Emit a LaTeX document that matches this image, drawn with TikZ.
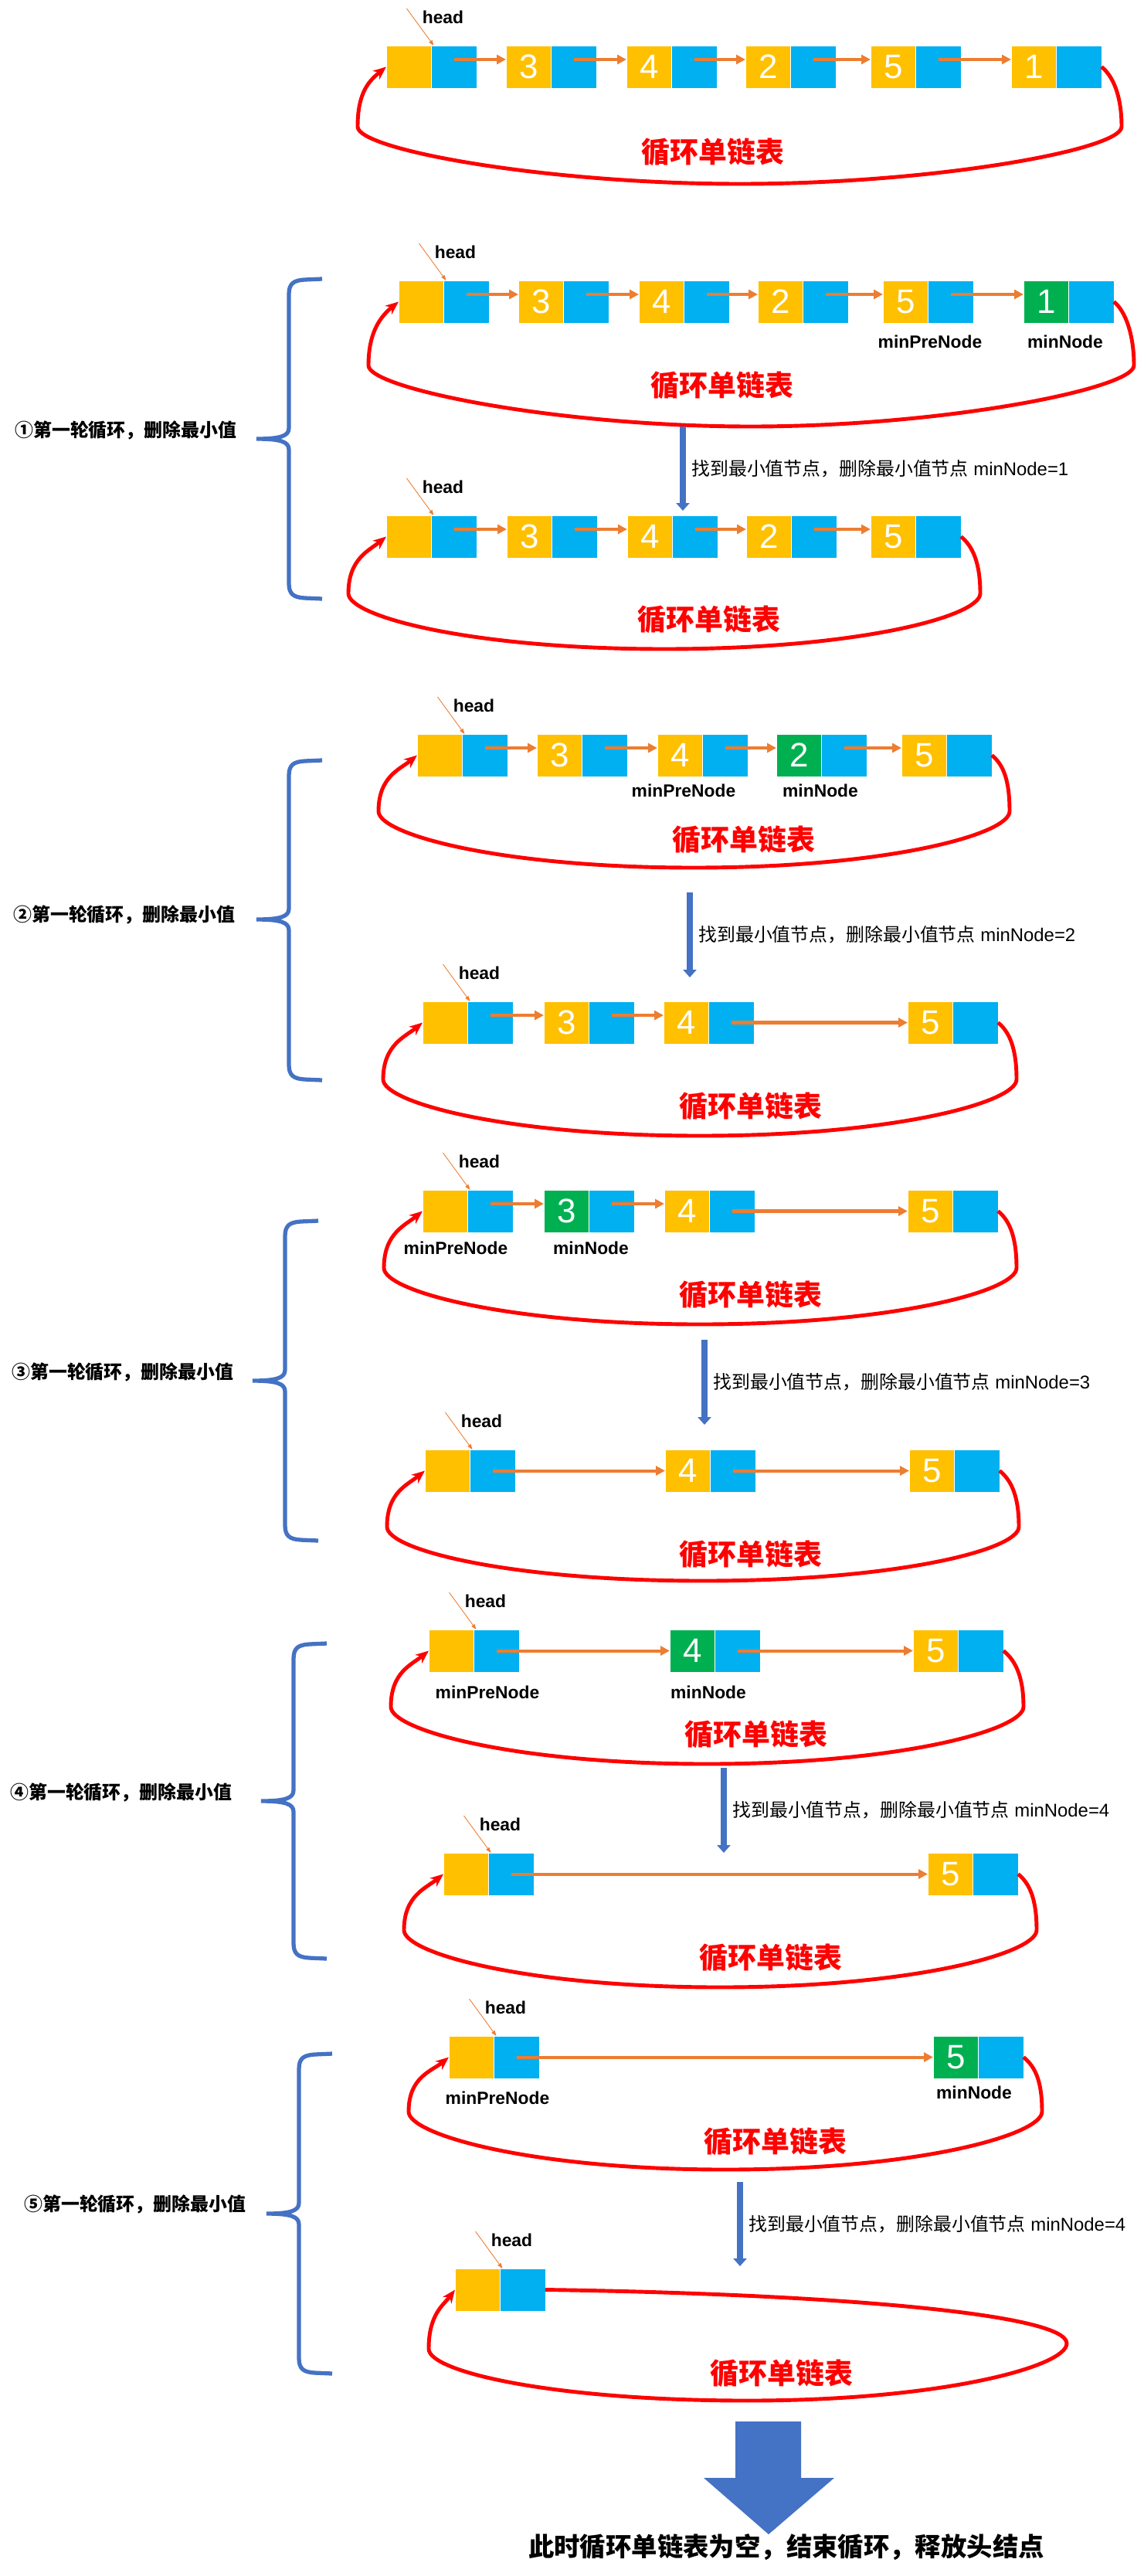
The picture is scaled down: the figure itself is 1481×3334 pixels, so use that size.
\documentclass[tikz,border=0pt]{standalone}
\usepackage{fontspec}
\setmainfont{Liberation Sans}
\newfontfamily\cjk{Noto Sans CJK SC}
\usetikzlibrary{arrows.meta,positioning}

\definecolor{yolk}{HTML}{FFC000}
\definecolor{sky}{HTML}{00B0F0}
\definecolor{leaf}{HTML}{00B050}
\definecolor{tangerine}{HTML}{ED7D31}
\definecolor{ruby}{HTML}{FF0000}
\definecolor{steel}{HTML}{4472C4}

\tikzstyle{cell} = [rectangle, minimum width=1.17cm, minimum height=1.1cm, inner sep=0pt, outer sep=0pt, draw=white, line width=0.5pt, text=white, font=\fontsize{25}{25}\selectfont]
\tikzstyle{val} = [cell, fill=yolk, anchor=north west]
\tikzstyle{minval} = [cell, fill=leaf, anchor=north west]
\tikzstyle{ptr} = [cell, fill=sky]
\tikzstyle{link} = [draw=tangerine, line width=2.3pt, -{Triangle[length=0.24cm,width=0.24cm]}]
\tikzstyle{headarrow} = [draw=tangerine, line width=0.5pt, -{Triangle[length=0.14cm,width=0.1cm]}]
\tikzstyle{loopline} = [draw=ruby, line width=2.8pt, -{Stealth[length=0.34cm,width=0.28cm]}]
\tikzstyle{stage} = [draw=steel, line width=4pt, -{Triangle[length=0.2cm,width=0.34cm]}]
\tikzstyle{bracestroke} = [draw=steel, line width=3pt]
\tikzstyle{tag} = [inner sep=0pt, font=\bfseries\fontsize{13}{15}\selectfont]
\tikzstyle{title} = [inner sep=0pt, text=ruby, font=\cjk\bfseries\fontsize{21}{24}\selectfont]
\tikzstyle{note} = [inner sep=0pt, anchor=west, font=\fontsize{13.6}{16}\selectfont]
\tikzstyle{roundlabel} = [inner sep=0pt, anchor=west, font=\cjk\bfseries\fontsize{13.6}{16}\selectfont]
\tikzstyle{closing} = [inner sep=0pt, font=\cjk\bfseries\fontsize{19}{22}\selectfont]

% list node: value cell + pointer cell
\newcommand{\listnode}[5][val]{\node[#1] (#2) at (#3,#4) {#5};
  \node[ptr, right=0pt of #2] (#2n) {};}
\newcommand{\nextarrow}[3][0cm]{\draw[link] ([yshift=#1]#2n.center) -- ([yshift=#1]#3.west);}
\newcommand{\headptr}[1]{\node[tag] (#1h) at ([xshift=0.3cm,yshift=0.74cm]#1.north east) {head};
  \coordinate (#1p) at ([xshift=-0.64cm,yshift=0.96cm]#1.north east);
  \draw[headarrow] (#1p) -- ([xshift=0.06cm]#1.north east);}
% red ring from last node back to first
\newcommand{\closeloop}[7]{\draw[loopline] (#1.east) .. controls +(15,12) and +(0,-40) .. (#3,#4)
    .. controls +(0,30) and +(250,0) .. (#5,#6)
    .. controls +(-250,0) and +(0,30) .. (#7,#4)
    .. controls +(0,-45) and +(-22,18) .. (#2.west);}
\newcommand{\stagearrow}[5]{\coordinate (#1s) at (#2,#3); \coordinate (#1e) at (#2,#4);
  \draw[stage] (#1s) -- (#1e);
  \node[note] (#1l) at ({#2+11},{(#3+#4)/2}) {{\cjk 找到最小值节点，删除最小值节点} minNode=#5};}
\newcommand{\roundbrace}[4]{\draw[bracestroke] ({#1+43},#2) -- ({#1+20},{#2+1})
    .. controls ({#1+6},{#2+2}) and (#1,{#2+6}) .. (#1,{#2+20})
    -- (#1,{#3-14}) .. controls (#1,{#3-4}) and ({#1-10},#3) .. ({#1-42},#3)
    .. controls ({#1-10},#3) and (#1,{#3+4}) .. (#1,{#3+14})
    -- (#1,{#4-20}) .. controls (#1,{#4-6}) and ({#1+6},{#4-2}) .. ({#1+20},{#4-1}) -- ({#1+43},#4);}

\begin{document}
\begin{tikzpicture}[x=0.02cm,y=-0.02cm]
\useasboundingbox (0,0) rectangle (1481,3334);

% initial list
\listnode{a1}{500}{59}{}
\listnode{a2}{655}{59}{3}
\listnode{a3}{811}{59}{4}
\listnode{a4}{965}{59}{2}
\listnode{a5}{1127}{59}{5}
\listnode{a6}{1309}{59}{1}
\headptr{a1}
\nextarrow[0.19cm]{a1}{a2} \nextarrow[0.19cm]{a2}{a3} \nextarrow[0.19cm]{a3}{a4}
\nextarrow[0.19cm]{a4}{a5} \nextarrow[0.19cm]{a5}{a6}
\closeloop{a6n}{a1}{1452}{164}{958}{238}{463}
\node[title] (at) at (923,197) {循环单链表};

% round 1
\listnode{b1}{516}{363}{}
\listnode{b2}{671}{363}{3}
\listnode{b3}{827}{363}{4}
\listnode{b4}{981}{363}{2}
\listnode{b5}{1143}{363}{5}
\listnode[minval]{b6}{1325}{363}{1}
\headptr{b1}
\nextarrow[0.19cm]{b1}{b2} \nextarrow[0.19cm]{b2}{b3} \nextarrow[0.19cm]{b3}{b4}
\nextarrow[0.19cm]{b4}{b5} \nextarrow[0.19cm]{b5}{b6}
\node[tag] (b5m) at (1204,442) {minPreNode};
\node[tag] (b6m) at (1379,442) {minNode};
\closeloop{b6n}{b1}{1468}{473}{972}{552}{477}
\node[title] (bt) at (935,499) {循环单链表};
\stagearrow{s1}{884}{552}{661}{1}
\listnode{c1}{500}{667}{}
\listnode{c2}{656}{667}{3}
\listnode{c3}{812}{667}{4}
\listnode{c4}{966}{667}{2}
\listnode{c5}{1127}{667}{5}
\headptr{c1}
\nextarrow[0.19cm]{c1}{c2} \nextarrow[0.19cm]{c2}{c3} \nextarrow[0.19cm]{c3}{c4}
\nextarrow[0.19cm]{c4}{c5}
\closeloop{c5n}{c1}{1269}{768}{860}{840}{451}
\node[title] (ct) at (918,802) {循环单链表};
\roundbrace{374}{361}{568}{775}
\node[roundlabel] (r1) at (19,557) {①第一轮循环，删除最小值};

% round 2
\listnode{d1}{540}{950}{}
\listnode{d2}{695}{950}{3}
\listnode{d3}{851}{950}{4}
\listnode[minval]{d4}{1005}{950}{2}
\listnode{d5}{1167}{950}{5}
\headptr{d1}
\nextarrow[0.19cm]{d1}{d2} \nextarrow[0.19cm]{d2}{d3} \nextarrow[0.19cm]{d3}{d4}
\nextarrow[0.19cm]{d4}{d5}
\node[tag] (d3m) at (885,1023) {minPreNode};
\node[tag] (d4m) at (1062,1023) {minNode};
\closeloop{d5n}{d1}{1307}{1050}{898}{1123}{490}
\node[title] (dt) at (963,1087) {循环单链表};
\stagearrow{s2}{893}{1155}{1265}{2}
\listnode{e1}{547}{1296}{}
\listnode{e2}{704}{1296}{3}
\listnode{e3}{859}{1296}{4}
\listnode{e4}{1175}{1296}{5}
\headptr{e1}
\nextarrow[0.19cm]{e1}{e2} \nextarrow[0.19cm]{e2}{e3} \nextarrow{e3}{e4}
\closeloop{e4n}{e1}{1316}{1397}{906}{1470}{496}
\node[title] (et) at (972,1432) {循环单链表};
\roundbrace{374}{984}{1190}{1398}
\node[roundlabel] (r2) at (17,1184) {②第一轮循环，删除最小值};

% round 3
\listnode{f1}{547}{1540}{}
\listnode[minval]{f2}{704}{1540}{3}
\listnode{f3}{860}{1540}{4}
\listnode{f4}{1175}{1540}{5}
\headptr{f1}
\nextarrow[0.19cm]{f1}{f2} \nextarrow[0.19cm]{f2}{f3} \nextarrow{f3}{f4}
\node[tag] (f1m) at (590,1615) {minPreNode};
\node[tag] (f2m) at (765,1615) {minNode};
\closeloop{f4n}{f1}{1316}{1641}{906}{1714}{497}
\node[title] (ft) at (972,1676) {循环单链表};
\stagearrow{s3}{912}{1734}{1844}{3}
\listnode{g1}{550}{1876}{}
\listnode{g2}{861}{1876}{4}
\listnode{g3}{1177}{1876}{5}
\headptr{g1}
\nextarrow{g1}{g2} \nextarrow{g2}{g3}
\closeloop{g3n}{g1}{1319}{1976}{910}{2046}{501}
\node[title] (gt) at (972,2012) {循环单链表};
\roundbrace{369}{1580}{1787}{1994}
\node[roundlabel] (r3) at (15,1776) {③第一轮循环，删除最小值};

% round 4
\listnode{h1}{555}{2109}{}
\listnode[minval]{h2}{867}{2109}{4}
\listnode{h3}{1182}{2109}{5}
\headptr{h1}
\nextarrow{h1}{h2} \nextarrow{h2}{h3}
\node[tag] (h1m) at (631,2190) {minPreNode};
\node[tag] (h2m) at (917,2190) {minNode};
\closeloop{h3n}{h1}{1325}{2209}{915}{2283}{506}
\node[title] (ht) at (979,2245) {循环单链表};
\stagearrow{s4}{937}{2288}{2398}{4}
\listnode{i1}{574}{2398}{}
\listnode{i2}{1201}{2398}{5}
\headptr{i1}
\nextarrow{i1}{i2}
\closeloop{i2n}{i1}{1342}{2498}{932}{2572}{523}
\node[title] (it) at (998,2534) {循环单链表};
\roundbrace{380}{2127}{2331}{2535}
\node[roundlabel] (r4) at (13,2320) {④第一轮循环，删除最小值};

% round 5
\listnode{j1}{581}{2635}{}
\listnode[minval]{j2}{1208}{2635}{5}
\headptr{j1}
\nextarrow{j1}{j2}
\node[tag] (j1m) at (644,2715) {minPreNode};
\node[tag] (j2m) at (1261,2708) {minNode};
\closeloop{j2n}{j1}{1349}{2733}{939}{2808}{529}
\node[title] (jt) at (1004,2772) {循环单链表};
\stagearrow{s5}{958}{2824}{2933}{4}
\listnode{k1}{589}{2936}{}
\headptr{k1}
\draw[loopline] (k1n.east) .. controls +(350,5) and +(0,-40) .. (1381,3033)
    .. controls +(0,30) and +(250,0) .. (968,3107)
    .. controls +(-250,0) and +(0,30) .. (555,3040)
    .. controls +(0,-45) and +(-15,20) .. (k1.west);
\node[title] (kt) at (1012,3072) {循环单链表};
\roundbrace{387}{2658}{2865}{3072}
\node[roundlabel] (r5) at (31,2853) {⑤第一轮循环，删除最小值};

% end
\fill[steel] (952,3134) -- (1037,3134) -- (1037,3207) -- (1080,3207) -- (995,3280) -- (911,3207) -- (952,3207) -- cycle;
\node[closing] (fin) at (1018,3297) {此时循环单链表为空，结束循环，释放头结点};
\end{tikzpicture}
\end{document}
